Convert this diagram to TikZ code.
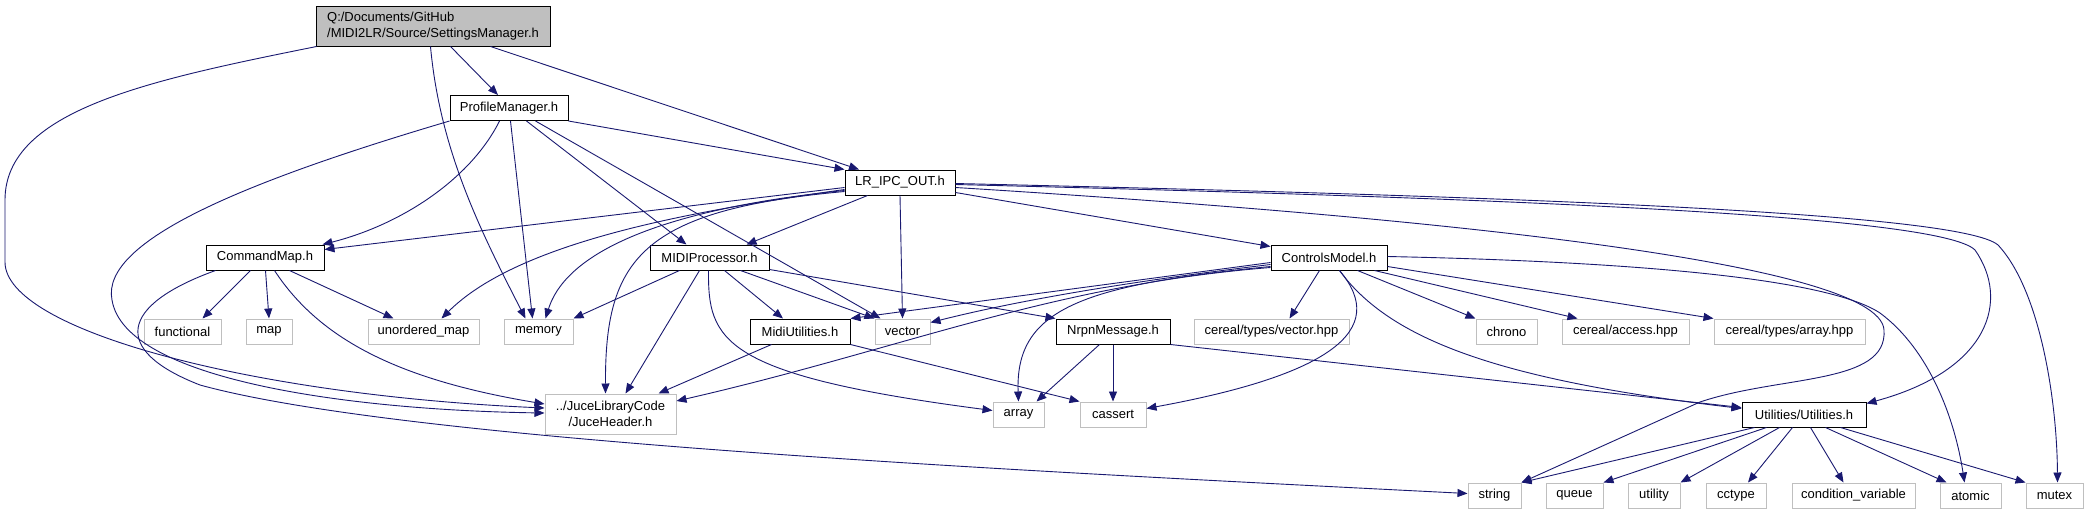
\documentclass[tikz,border=0pt]{standalone}
\usepackage{fontspec}
\setmainfont{Liberation Sans}
\usetikzlibrary{arrows.meta}
\definecolor{edgeblue}{HTML}{191970}
\definecolor{sysgray}{HTML}{BFBFBF}

\begin{document}
\begin{tikzpicture}[
    x=1pt, y=-1pt,
    every node/.style={font=\fontsize{13}{16}\selectfont, inner sep=0pt, minimum height=25pt},
    rootfile/.style={rectangle, draw=black, fill=sysgray, line width=1pt, align=left},
    hfile/.style={rectangle, draw=black, fill=white, line width=1pt},
    sysfile/.style={rectangle, draw=sysgray, fill=white, line width=1pt},
    inc/.style={-{Triangle[length=10pt,width=8pt]}, draw=edgeblue, line width=0.9pt},
]
\fill[white] (0,0) rectangle (2089,515);
\useasboundingbox (0,0) rectangle (2089,515);

\node[rootfile, minimum width=234pt, minimum height=40pt] (sm) at (433,26)
    {Q:/Documents/GitHub\\/MIDI2LR/Source/SettingsManager.h};
\node[hfile, minimum width=118pt] (pm)   at (509,108)    {ProfileManager.h};
\node[hfile, minimum width=110pt] (lr)   at (900,182.5)  {LR\_IPC\_OUT.h};
\node[hfile, minimum width=118pt] (cm)   at (265,257.5)  {CommandMap.h};
\node[hfile, minimum width=119pt] (mp)   at (709.5,257.5) {MIDIProcessor.h};
\node[hfile, minimum width=116pt] (cmod) at (1329,257.5) {ControlsModel.h};

\node[sysfile, minimum width=77pt]  (functional) at (182.5,331.5)  {functional};
\node[sysfile, minimum width=46pt]  (map)        at (269,331.5)    {map};
\node[sysfile, minimum width=111pt] (umap)       at (423.5,331.5)  {unordered\_map};
\node[sysfile, minimum width=69pt]  (memory)     at (538.5,331.5)  {memory};
\node[hfile,   minimum width=100pt] (mu)         at (800,331.5)    {MidiUtilities.h};
\node[sysfile, minimum width=55pt]  (vector)     at (902.5,331.5)  {vector};
\node[hfile,   minimum width=114pt] (nm)         at (1113,331.5)   {NrpnMessage.h};
\node[sysfile, minimum width=155pt] (ctv)        at (1271.5,331.5) {cereal/types/vector.hpp};
\node[sysfile, minimum width=61pt]  (chrono)     at (1506.5,331.5) {chrono};
\node[sysfile, minimum width=127pt] (cacc)       at (1625.5,331.5) {cereal/access.hpp};
\node[sysfile, minimum width=151pt] (cta)        at (1789.5,331.5) {cereal/types/array.hpp};

\node[sysfile, minimum width=131pt, minimum height=40pt, align=center] (juce) at (610.5,414)
    {../JuceLibraryCode\\/JuceHeader.h};
\node[sysfile, minimum width=51pt]  (array)   at (1018.5,414.5) {array};
\node[sysfile, minimum width=66pt]  (cassert) at (1113,414.5)   {cassert};
\node[hfile,   minimum width=124pt] (util)    at (1804,414.5)   {Utilities/Utilities.h};

\node[sysfile, minimum width=53pt]  (string)  at (1494.5,495.5) {string};
\node[sysfile, minimum width=57pt]  (queue)   at (1574.5,495.5) {queue};
\node[sysfile, minimum width=52pt]  (utility) at (1654,495.5)   {utility};
\node[sysfile, minimum width=60pt]  (cctype)  at (1736,495.5)   {cctype};
\node[sysfile, minimum width=123pt] (condvar) at (1853.5,495.5) {condition\_variable};
\node[sysfile, minimum width=61pt]  (atomic)  at (1970.5,495.5) {atomic};
\node[sysfile, minimum width=57pt]  (mutex)   at (2054.5,495.5) {mutex};

% SettingsManager.h
\draw[inc] ([xshift=1pt]sm.south west) .. controls (150,80) and (5,110) .. (5,200)
    -- (5,262) .. controls (5,330) and (250,395) .. ([yshift=6pt]juce.west);
\draw[inc] ([xshift=115pt]sm.south west) .. controls (440,150) and (480,230) .. ([xshift=-13pt]memory.north);
\draw[inc] ([xshift=135pt]sm.south west) -- ([xshift=-11pt]pm.north);
\draw[inc] ([xshift=175pt]sm.south west) -- ([xshift=-41pt]lr.north);

% ProfileManager.h
\draw[inc] (pm.south west) .. controls (250,180) and (100,240) .. (112,300)
    .. controls (125,380) and (350,410) .. ([yshift=1pt]juce.west);
\draw[inc] ([xshift=50pt]pm.south west) .. controls (470,180) and (400,225) .. ([xshift=-2pt]cm.north east);
\draw[inc] ([xshift=61pt]pm.south west) -- ([xshift=-6pt]memory.north);
\draw[inc] ([xshift=77pt]pm.south west) -- ([xshift=-23pt]mp.north);
\draw[inc] ([xshift=86pt]pm.south west) -- ([xshift=-22pt]vector.north);
\draw[inc] (pm.south east) -- (lr.north west);

% LR_IPC_OUT.h
\draw[inc] ([yshift=-5pt]lr.west) -- ([yshift=8pt]cm.east);
\draw[inc] ([yshift=-7pt]lr.west) .. controls (700,210) and (520,240) .. ([xshift=18pt]umap.north);
\draw[inc] ([yshift=-8pt]lr.west) .. controls (700,205) and (570,240) .. ([xshift=7pt]memory.north);
\draw[inc] ([yshift=-9pt]lr.west) .. controls (640,210) and (605,260) .. ([xshift=-5pt]juce.north);
\draw[inc] ([xshift=23pt]lr.south west) -- ([xshift=37pt]mp.north);
\draw[inc] (lr.south) -- (vector.north);
\draw[inc] ([yshift=-10pt]lr.east) -- ([yshift=-2pt]cmod.north west);
\draw[inc] ([yshift=-5pt]lr.east) .. controls (1400,215) and (1880,260) .. (1884,330)
    .. controls (1888,385) and (1780,375) .. (1700,402) -- (string.north east);
\draw[inc] ([yshift=-2pt]lr.east) .. controls (1500,198) and (1940,215) .. (1975,250)
    .. controls (2010,300) and (1990,370) .. ([yshift=-2pt]util.north east);
\draw[inc] ([yshift=-1pt]lr.east) .. controls (1500,196) and (1960,212) .. (1998,245)
    .. controls (2040,290) and (2057,400) .. ([xshift=3pt]mutex.north);

% CommandMap.h
\draw[inc] ([xshift=45pt]cm.south west) -- ([xshift=20pt]functional.north);
\draw[inc] ([xshift=60pt]cm.south west) -- (map.north);
\draw[inc] ([xshift=84pt]cm.south west) -- ([xshift=-30pt]umap.north);
\draw[inc] ([xshift=69pt]cm.south west) .. controls (320,340) and (400,380) .. ([yshift=10pt]juce.west);
\draw[inc] ([xshift=10pt]cm.south west) .. controls (120,305) and (110,350) .. (200,385)
    .. controls (400,440) and (1000,470) .. ([yshift=2pt]string.west);

% MIDIProcessor.h
\draw[inc] ([xshift=30pt]mp.south west) -- (memory.north east);
\draw[inc] ([xshift=50pt]mp.south west) -- ([xshift=15pt]juce.north);
\draw[inc] ([xshift=59pt]mp.south west) .. controls (708,340) and (720,375) .. ([yshift=4pt]array.west);
\draw[inc] ([xshift=75pt]mp.south west) -- ([xshift=-17pt]mu.north);
\draw[inc] ([xshift=91pt]mp.south west) -- (vector.north west);
\draw[inc] ([yshift=1pt]mp.south east) -- (nm.north west);

% MidiUtilities.h, NrpnMessage.h
\draw[inc] ([xshift=22pt]mu.south west) -- ([xshift=48pt]juce.north);
\draw[inc] (mu.south east) -- (cassert.north west);
\draw[inc] ([xshift=44pt]nm.south west) -- ([xshift=-8pt]array.north east);
\draw[inc] (nm.south) -- (cassert.north);
\draw[inc] (nm.south east) -- ([yshift=7pt]util.west);

% ControlsModel.h
\draw[inc] ([yshift=-5pt]cmod.west) -- (mu.north east);
\draw[inc] ([yshift=-7pt]cmod.west) .. controls (1100,285) and (1000,305) .. ([yshift=9pt]vector.east);
\draw[inc] ([yshift=-9pt]cmod.west) .. controls (1080,285) and (1015,310) .. (array.north);
\draw[inc] ([yshift=-10pt]cmod.west) .. controls (1050,285) and (900,350) .. ([yshift=13pt]juce.east);
\draw[inc] ([xshift=69pt]cmod.south west) .. controls (1390,330) and (1330,375) .. ([yshift=6pt]cassert.east);
\draw[inc] ([xshift=49pt]cmod.south west) -- ([xshift=-60pt]ctv.north east);
\draw[inc] ([xshift=87pt]cmod.south west) -- (chrono.north west);
\draw[inc] ([xshift=104pt]cmod.south west) -- ([xshift=-48pt]cacc.north);
\draw[inc] ([yshift=-9pt]cmod.east) -- (cta.north west);
\draw[inc] ([xshift=69pt]cmod.south west) .. controls (1390,340) and (1500,380) .. ([yshift=6pt]util.west);
\draw[inc] ([yshift=1pt]cmod.east) .. controls (1650,262) and (1830,280) .. (1880,313)
    .. controls (1930,350) and (1955,420) .. ([xshift=-6pt]atomic.north);

% Utilities/Utilities.h
\draw[inc] ([xshift=13pt]util.south west) -- (string.north east);
\draw[inc] ([xshift=25pt]util.south west) -- (queue.north east);
\draw[inc] ([xshift=38pt]util.south west) -- (utility.north east);
\draw[inc] ([xshift=51pt]util.south west) -- ([xshift=12pt]cctype.north);
\draw[inc] ([xshift=69pt]util.south west) -- ([xshift=-10pt]condvar.north);
\draw[inc] ([xshift=84pt]util.south west) -- ([xshift=7pt]atomic.north west);
\draw[inc] ([xshift=99pt]util.south west) -- (mutex.north west);
\end{tikzpicture}
\end{document}
